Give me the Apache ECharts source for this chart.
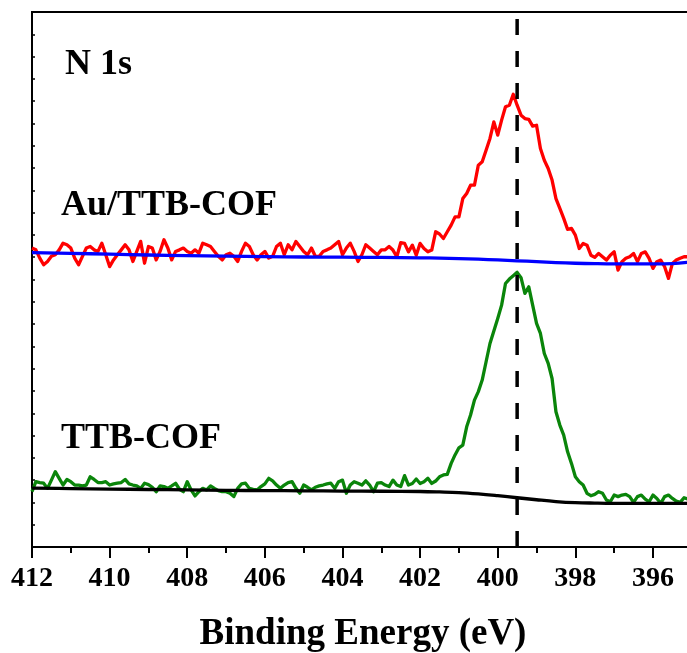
<!DOCTYPE html>
<html>
<head>
<meta charset="utf-8">
<script src="https://cdn.jsdelivr.net/npm/echarts@6/dist/echarts.min.js"></script>
<style>
  html, body { margin: 0; padding: 0; background: #fff; }
  #chart { width: 687px; height: 653px; }
</style>
</head>
<body>
<div id="chart"></div>
<script>
// N 1s XPS spectra, binding energy in eV (0.1 eV steps), intensity in arbitrary units
const energies = [
  412.0, 411.9, 411.8, 411.7, 411.6, 411.5, 411.4, 411.3, 411.2, 411.1,
  411.0, 410.9, 410.8, 410.7, 410.6, 410.5, 410.4, 410.3, 410.2, 410.1,
  410.0, 409.9, 409.8, 409.7, 409.6, 409.5, 409.4, 409.3, 409.2, 409.1,
  409.0, 408.9, 408.8, 408.7, 408.6, 408.5, 408.4, 408.3, 408.2, 408.1,
  408.0, 407.9, 407.8, 407.7, 407.6, 407.5, 407.4, 407.3, 407.2, 407.1,
  407.0, 406.9, 406.8, 406.7, 406.6, 406.5, 406.4, 406.3, 406.2, 406.1,
  406.0, 405.9, 405.8, 405.7, 405.6, 405.5, 405.4, 405.3, 405.2, 405.1,
  405.0, 404.9, 404.8, 404.7, 404.6, 404.5, 404.4, 404.3, 404.2, 404.1,
  404.0, 403.9, 403.8, 403.7, 403.6, 403.5, 403.4, 403.3, 403.2, 403.1,
  403.0, 402.9, 402.8, 402.7, 402.6, 402.5, 402.4, 402.3, 402.2, 402.1,
  402.0, 401.9, 401.8, 401.7, 401.6, 401.5, 401.4, 401.3, 401.2, 401.1,
  401.0, 400.9, 400.8, 400.7, 400.6, 400.5, 400.4, 400.3, 400.2, 400.1,
  400.0, 399.9, 399.8, 399.7, 399.6, 399.5, 399.4, 399.3, 399.2, 399.1,
  399.0, 398.9, 398.8, 398.7, 398.6, 398.5, 398.4, 398.3, 398.2, 398.1,
  398.0, 397.9, 397.8, 397.7, 397.6, 397.5, 397.4, 397.3, 397.2, 397.1,
  397.0, 396.9, 396.8, 396.7, 396.6, 396.5, 396.4, 396.3, 396.2, 396.1,
  396.0, 395.9, 395.8, 395.7, 395.6, 395.5, 395.4, 395.3, 395.2, 395.1
];

// Au/TTB-COF measured spectrum (offset upward)
const auTtbCof = [
  13.41, 13.33, 12.96, 12.66, 12.81, 13.04, 13.11, 13.33, 13.63, 13.56,
  13.41, 12.96, 12.66, 13.04, 13.41, 13.48, 13.33, 13.26, 13.63, 13.11,
  12.58, 12.88, 13.11, 13.33, 13.56, 13.33, 12.81, 13.26, 13.71, 12.73,
  13.48, 13.41, 12.88, 13.26, 13.78, 13.41, 12.88, 13.26, 13.33, 13.41,
  13.26, 13.18, 13.33, 13.18, 13.63, 13.56, 13.48, 13.26, 13.04, 12.88,
  13.11, 13.18, 13.04, 12.81, 13.26, 13.63, 13.48, 13.11, 12.88, 13.11,
  13.26, 12.96, 13.04, 13.48, 13.63, 13.11, 13.56, 13.33, 13.71, 13.48,
  13.26, 13.11, 13.41, 13.04, 13.04, 13.26, 13.33, 13.41, 13.56, 13.71,
  13.11, 13.41, 13.63, 13.26, 12.81, 13.11, 13.56, 13.41, 13.26, 13.11,
  13.33, 13.33, 13.48, 13.32, 13.02, 13.65, 13.62, 13.24, 13.54, 13.09,
  13.62, 13.39, 13.24, 13.32, 14.14, 14.04, 13.84, 14.14, 14.44, 14.81,
  14.81, 15.63, 15.86, 16.23, 16.23, 17.13, 17.28, 17.80, 18.33, 19.07,
  18.48, 19.15, 19.75, 19.82, 20.31, 19.82, 19.37, 19.22, 19.18, 18.88,
  18.92, 17.88, 17.35, 16.98, 16.46, 15.63, 15.19, 14.74, 14.25, 14.29,
  13.99, 13.39, 13.62, 13.54, 13.09, 12.99, 13.17, 13.02, 12.87, 13.09,
  13.24, 12.42, 12.80, 12.95, 13.02, 13.17, 12.80, 13.17, 13.24, 12.95,
  12.50, 12.80, 12.87, 12.57, 12.05, 12.72, 12.87, 12.95, 13.02, 13.02
];

// TTB-COF measured spectrum
const ttbCof = [
  2.48, 2.93, 2.89, 2.86, 2.63, 3.00, 3.38, 3.08, 2.78, 3.03,
  2.93, 2.78, 2.78, 2.74, 2.78, 3.15, 3.03, 2.89, 2.89, 2.93,
  2.78, 2.83, 2.86, 2.89, 3.03, 2.83, 2.78, 2.74, 2.63, 2.86,
  2.80, 2.68, 2.48, 2.74, 2.71, 2.63, 2.74, 2.86, 2.59, 2.48,
  2.93, 2.56, 2.29, 2.48, 2.63, 2.56, 2.74, 2.63, 2.53, 2.48,
  2.48, 2.41, 2.26, 2.63, 2.83, 2.86, 2.63, 2.59, 2.56, 2.71,
  2.83, 3.08, 2.97, 2.78, 2.63, 2.78, 2.89, 2.93, 2.63, 2.41,
  2.78, 2.68, 2.56, 2.68, 2.74, 2.78, 2.83, 2.86, 2.63, 2.93,
  3.00, 2.41, 2.78, 2.93, 2.86, 2.78, 2.97, 2.78, 2.48, 2.86,
  2.89, 2.78, 2.71, 3.00, 2.78, 2.71, 3.20, 2.78, 2.85, 3.05,
  2.85, 2.93, 3.08, 2.85, 2.96, 3.15, 3.23, 3.26, 3.75, 4.13,
  4.45, 4.57, 5.39, 5.92, 6.59, 6.97, 7.49, 8.31, 9.13, 9.69,
  10.25, 10.85, 11.82, 12.02, 12.17, 12.32, 12.08, 11.38, 11.67, 10.85,
  10.03, 9.58, 8.68, 8.24, 7.56, 6.07, 5.47, 5.02, 4.27, 3.75,
  3.15, 2.93, 2.78, 2.41, 2.30, 2.36, 2.48, 2.41, 2.11, 2.03,
  2.33, 2.26, 2.33, 2.36, 2.26, 2.00, 2.26, 2.33, 2.15, 2.03,
  2.33, 2.18, 1.96, 2.26, 2.33, 2.18, 2.06, 2.00, 2.21, 2.15
];

// Shirley-type backgrounds
const baselineEnergies = [412, 411, 410, 409, 408, 407, 406, 405, 404, 403, 402, 401.5,
  401, 400.5, 400, 399.5, 399, 398.5, 398, 397.5, 397, 396, 395.5, 395.1];
const auBaseline = [13.21, 13.17, 13.14, 13.10, 13.07, 13.05, 13.03, 13.01, 13.00, 12.99, 12.97, 12.96,
  12.94, 12.91, 12.88, 12.84, 12.80, 12.76, 12.73, 12.71, 12.70, 12.70, 12.71, 12.77];
const ttbBaseline = [2.64, 2.62, 2.60, 2.58, 2.56, 2.54, 2.53, 2.52, 2.51, 2.50, 2.49, 2.47,
  2.44, 2.38, 2.30, 2.21, 2.12, 2.04, 1.99, 1.97, 1.96, 1.96, 1.96, 1.96];

// Reference peak position (eV)
const peakPosition = 399.5;

const sampleLabels = ['N 1s', 'Au/TTB-COF', 'TTB-COF'];
const axisTitle = 'Binding Energy (eV)';

const pair = (xs, ys) => xs.map((x, i) => [x, ys[i]]);
const serif = '"Liberation Serif", "Times New Roman", serif';

const chart = echarts.init(document.getElementById('chart'), null, { renderer: 'canvas' });

function lineSeries(data, color, width, z, smooth) {
  return {
    type: 'line',
    data: data,
    symbol: 'none',
    smooth: smooth || false,
    z: z,
    lineStyle: { color: color, width: width, join: 'round' },
    silent: true
  };
}

chart.setOption({
  animation: false,
  backgroundColor: '#fff',
  grid: {
    left: 32, top: 12, width: 698.6, height: 535,
    containLabel: false,
    outerBoundsMode: 'none',
    show: true, borderColor: '#000', borderWidth: 2, backgroundColor: 'transparent'
  },
  xAxis: {
    type: 'value', min: 394, max: 412, interval: 2, inverse: true,
    axisLine: { onZero: false, lineStyle: { color: '#000', width: 2 } },
    axisTick: { length: 11, lineStyle: { color: '#000', width: 2 } },
    minorTick: { show: true, splitNumber: 2, length: 6, lineStyle: { color: '#000', width: 2 } },
    axisLabel: { margin: 18, color: '#000', fontFamily: serif, fontWeight: 'bold', fontSize: 28 },
    splitLine: { show: false },
    minorSplitLine: { show: false }
  },
  yAxis: {
    type: 'value', min: 0, max: 24, interval: 1,
    axisLine: { show: true, onZero: false, lineStyle: { color: '#000', width: 2 } },
    axisTick: { show: true, inside: true, length: 3, lineStyle: { color: '#000', width: 1.5 } },
    axisLabel: { show: false },
    splitLine: { show: false }
  },
  series: [
    lineSeries(pair(energies, auTtbCof), '#ff0000', 3.3, 2),
    lineSeries(pair(baselineEnergies, auBaseline), '#0000ff', 3.3, 3, 0.4),
    lineSeries(pair(energies, ttbCof), '#0a850a', 3.3, 2),
    lineSeries(pair(baselineEnergies, ttbBaseline), '#000000', 3.3, 3, 0.4),
    {
      type: 'line',
      data: [[peakPosition, 0], [peakPosition, 24]],
      symbol: 'none',
      z: 5,
      silent: true,
      lineStyle: { color: '#000', width: 3.5, type: [16, 16] }
    }
  ],
  graphic: [
    { type: 'text', x: 65, y: 65, style: { text: sampleLabels[0], font: 'bold 36px ' + serif, fill: '#000', align: 'left', verticalAlign: 'middle' } },
    { type: 'text', x: 61, y: 206, style: { text: sampleLabels[1], font: 'bold 36px ' + serif, fill: '#000', align: 'left', verticalAlign: 'middle' } },
    { type: 'text', x: 61, y: 439, style: { text: sampleLabels[2], font: 'bold 36px ' + serif, fill: '#000', align: 'left', verticalAlign: 'middle' } },
    { type: 'text', x: 363, y: 634, style: { text: axisTitle, font: 'bold 37px ' + serif, fill: '#000', align: 'center', verticalAlign: 'middle' } }
  ]
});
</script>
</body>
</html>
